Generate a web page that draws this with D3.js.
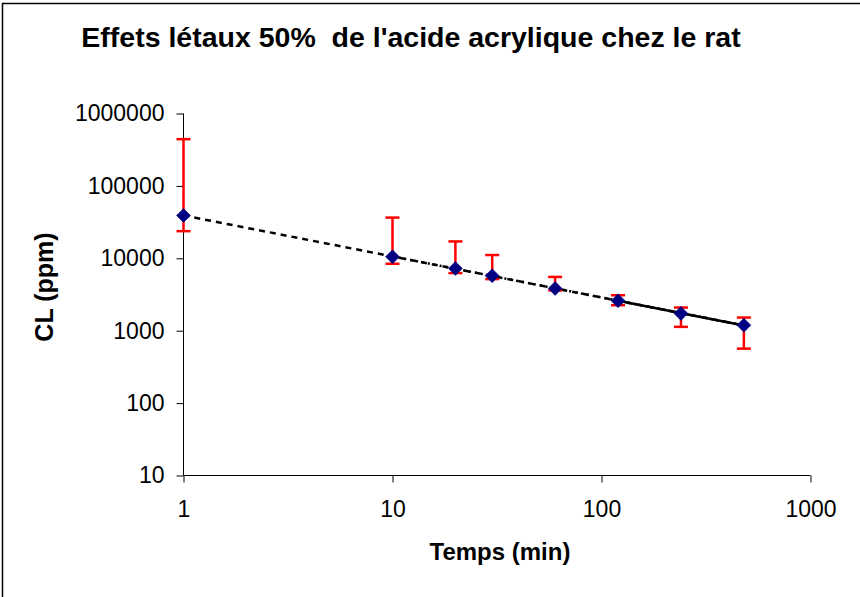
<!DOCTYPE html>
<html>
<head>
<meta charset="utf-8">
<script src="https://cdn.jsdelivr.net/npm/d3@7"></script>
<style>
  body { margin: 0; background: #fff; }
  text { font-family: "Liberation Sans", Arial, sans-serif; fill: #000; }
</style>
</head>
<body>
<div id="chart"></div>
<script>
// data
var temps = [1, 10, 20, 30, 60, 120, 240, 480];
var cl = [39000, 10500, 7250, 5750, 3830, 2600, 1730, 1190];
var clUpper = [442000, 36500, 17100, 11100, 5530, 3090, 2090, 1520];
var clLower = [23700, 8400, 6250, 5160, 3600, 2250, 1130, 565];
var xTicks = [1, 10, 100, 1000];
var yTicks = [10, 100, 1000, 10000, 100000, 1000000];
// trendlines: first index of points used (all up to the last one)
var trendStarts = [0, 1, 5];
var trendDash = ["6,5", "2,4", null];

var width = 860, height = 597;

var svg = d3
  .select("#chart")
  .append("svg")
  .attr("width", width)
  .attr("height", height);

// chart border (only top and left are visible in the picture)
svg
  .append("rect")
  .attr("x", 2.5)
  .attr("y", 3.5)
  .attr("width", width + 20)
  .attr("height", height + 20)
  .style("fill", "none")
  .style("stroke", "#000")
  .style("stroke-width", 1.5);

var x = d3.scaleLog().domain([1, 1000]).range([183.5, 810.5]);
var y = d3.scaleLog().domain([10, 1000000]).range([475.5, 113.5]);

// axis X
var xAxis = svg
  .append("g")
  .attr("transform", "translate(0,475.5)")
  .call(d3.axisBottom(x).tickValues(xTicks).tickFormat(d3.format("d")).tickSize(7).tickPadding(18))
  .style("font-size", "23px");
xAxis.select(".domain").attr("d", "M" + x.range()[0] + ",0H" + x.range()[1]);

// axis Y
var yAxis = svg
  .append("g")
  .attr("transform", "translate(183.5,0)")
  .call(d3.axisLeft(y).tickValues(yTicks).tickFormat(d3.format("d")).tickSize(7).tickPadding(12))
  .style("font-size", "23px");
yAxis.select(".domain").attr("d", "M0," + y.range()[0] + "V" + y.range()[1]);

svg.selectAll(".tick text").style("font-family", "'Liberation Sans', Arial, sans-serif");

// title
svg
  .append("text")
  .attr("x", 411)
  .attr("y", 47)
  .style("text-anchor", "middle")
  .style("font-size", "28.5px")
  .style("font-weight", "bold")
  .style("white-space", "pre")
  .text("Effets létaux 50%  de l'acide acrylique chez le rat");

// Name of axis X
svg
  .append("text")
  .attr("x", 500)
  .attr("y", 560)
  .style("text-anchor", "middle")
  .style("font-size", "24px")
  .style("font-weight", "bold")
  .text("Temps (min)");

// Name of axis Y
svg
  .append("text")
  .attr("transform", "translate(53,287) rotate(-90)")
  .style("text-anchor", "middle")
  .style("font-size", "25px")
  .style("font-weight", "bold")
  .text("CL (ppm)");

// power trendlines, least squares in log-log
function powerFit(start) {
  var lx = temps.slice(start).map(Math.log10);
  var ly = cl.slice(start).map(Math.log10);
  var mx = d3.mean(lx), my = d3.mean(ly);
  var slope = d3.sum(lx, (v, i) => (v - mx) * (ly[i] - my)) / d3.sum(lx, (v) => (v - mx) * (v - mx));
  var b = my - slope * mx;
  return [temps[start], temps[temps.length - 1]].map((t) => [t, Math.pow(10, b + slope * Math.log10(t))]);
}

var line = d3.line()
  .x((d) => x(d[0]))
  .y((d) => y(d[1]));

trendStarts.forEach(function (s, i) {
  svg
    .append("path")
    .attr("d", line(powerFit(s)))
    .style("fill", "none")
    .style("stroke", "#000")
    .style("stroke-width", 2.5)
    .style("stroke-dasharray", trendDash[i]);
});

// error bars
var bars = svg.append("g").selectAll("g").data(temps).enter().append("g")
  .style("stroke", "#ff0000")
  .style("stroke-width", 2.5);

bars.append("line")
  .attr("x1", (d) => x(d)).attr("x2", (d) => x(d))
  .attr("y1", (d, i) => y(clUpper[i])).attr("y2", (d, i) => y(clLower[i]));
bars.append("line")
  .attr("x1", (d) => x(d) - 7).attr("x2", (d) => x(d) + 7)
  .attr("y1", (d, i) => y(clUpper[i])).attr("y2", (d, i) => y(clUpper[i]));
bars.append("line")
  .attr("x1", (d) => x(d) - 7).attr("x2", (d) => x(d) + 7)
  .attr("y1", (d, i) => y(clLower[i])).attr("y2", (d, i) => y(clLower[i]));

// add points to graph
svg
  .append("g")
  .selectAll("path")
  .data(temps)
  .enter()
  .append("path")
  .attr("transform", (d, i) => "translate(" + x(d) + "," + y(cl[i]) + ")")
  .attr("d", "M0,-7L7,0L0,7L-7,0Z")
  .style("fill", "#000080")
  .style("stroke", "#000080")
  .style("stroke-width", 0.5);
</script>
</body>
</html>
